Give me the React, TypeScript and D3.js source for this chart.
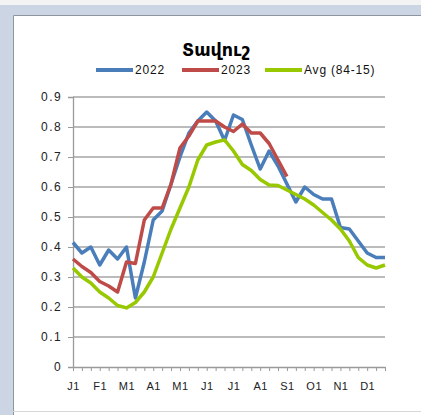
import React, { useEffect, useRef } from "react";
import * as d3 from "d3";

// 36 dekads (1st, 11th, 21st of each month)
const monthLabels = ["J1", "F1", "M1", "A1", "M1", "J1", "J1", "A1", "S1", "O1", "N1", "D1"];
const categories = d3.range(36);

const values2022 = [
  0.415, 0.38, 0.4, 0.34, 0.39, 0.36, 0.4, 0.23, 0.35, 0.49, 0.52, 0.61,
  0.7, 0.78, 0.82, 0.85, 0.82, 0.755, 0.84, 0.825, 0.74, 0.66, 0.72, 0.67,
  0.61, 0.55, 0.6, 0.575, 0.56, 0.56, 0.465, 0.46, 0.42, 0.38, 0.365, 0.365,
];
const values2023 = [
  0.36, 0.335, 0.315, 0.285, 0.27, 0.25, 0.35, 0.345, 0.49, 0.53, 0.53, 0.61,
  0.73, 0.77, 0.82, 0.82, 0.82, 0.8, 0.785, 0.81, 0.78, 0.78, 0.745, 0.69,
  0.635,
];
const valuesAvg = [
  0.33, 0.3, 0.28, 0.25, 0.23, 0.205, 0.197, 0.215, 0.25, 0.3, 0.38, 0.46,
  0.53, 0.6, 0.69, 0.74, 0.75, 0.757, 0.72, 0.675, 0.655, 0.625, 0.607, 0.605,
  0.59, 0.575, 0.56, 0.54, 0.515, 0.49, 0.46, 0.42, 0.365, 0.34, 0.33, 0.34,
];
const yTicks = [0, 0.1, 0.2, 0.3, 0.4, 0.5, 0.6, 0.7, 0.8, 0.9];

const series = [
  { name: "2022", values: values2022, color: "#4a7ebb" },
  { name: "2023", values: values2023, color: "#be4b48" },
  { name: "Avg (84-15)", values: valuesAvg, color: "#98c800" },
];

const App = () => {
  const svgRef = useRef<SVGSVGElement>(null);

  useEffect(() => {
    const svg = d3.select(svgRef.current);
    svg.selectAll("*").remove();

    // window frame
    svg.append("rect").attr("width", 421).attr("height", 415).attr("fill", "#fff");
    svg.append("rect").attr("width", 421).attr("height", 5).attr("fill", "#f3f3f3");
    svg.append("rect").attr("y", 5).attr("width", 421).attr("height", 10).attr("fill", "#cbd5e4");
    svg.append("rect").attr("y", 5).attr("width", 13).attr("height", 410).attr("fill", "#cbd5e4");
    svg.append("path").attr("d", "M13.5,415V15.5H421").attr("fill", "none").attr("stroke", "#8e959c");
    svg.append("line").attr("x1", 13).attr("x2", 421).attr("y1", 411.5).attr("y2", 411.5).attr("stroke", "#d8d8d8");

    const x = d3.scalePoint<number>().domain(categories).range([73, 385]);
    const y = d3.scaleLinear().domain([0, 0.9]).range([367, 97]);

    // gridlines
    svg
      .append("g")
      .selectAll("line")
      .data(yTicks.slice(1))
      .enter()
      .append("line")
      .attr("x1", 73)
      .attr("x2", 385)
      .attr("y1", (d) => y(d))
      .attr("y2", (d) => y(d))
      .attr("stroke", "#a5a5a5")
      .attr("stroke-width", 1.3);

    // y axis
    const yAxis = svg
      .append("g")
      .attr("transform", "translate(73,0)")
      .call(
        d3
          .axisLeft(y)
          .tickValues(yTicks)
          .tickSize(5)
          .tickPadding(6)
          .tickFormat((d) => (d === 0 ? "0" : d3.format(".1f")(d as number)))
      );
    yAxis.select(".domain").attr("stroke", "#9a9a9a").attr("stroke-width", 1.3);
    yAxis.selectAll(".tick line").attr("stroke", "#9a9a9a");
    yAxis
      .selectAll("text")
      .attr("font-family", "Liberation Sans, Arial, sans-serif")
      .attr("font-size", 12)
      .attr("letter-spacing", 1.4)
      .attr("fill", "#222");

    // x axis
    const xAxis = svg
      .append("g")
      .attr("transform", "translate(0,367)")
      .call(
        d3
          .axisBottom(x)
          .tickSize(4)
          .tickPadding(11)
          .tickFormat((d) => ((d as number) % 3 === 0 ? monthLabels[(d as number) / 3] : ""))
      );
    xAxis.select(".domain").attr("stroke", "#9a9a9a").attr("stroke-width", 1.3).attr("d", "M73,0.5H385.5");
    xAxis.selectAll(".tick line").attr("stroke", "#9a9a9a");
    xAxis
      .selectAll("text")
      .attr("font-family", "Liberation Sans, Arial, sans-serif")
      .attr("font-size", 11)
      .attr("letter-spacing", 0.5)
      .attr("fill", "#222");

    // lines
    const line = d3
      .line<number>()
      .x((d, i) => x(i) as number)
      .y((d) => y(d));

    svg
      .append("g")
      .selectAll("path")
      .data(series)
      .enter()
      .append("path")
      .attr("d", (d) => line(d.values))
      .attr("fill", "none")
      .attr("stroke", (d) => d.color)
      .attr("stroke-width", 3.5)
      .attr("stroke-linejoin", "round");

    // title
    svg
      .append("text")
      .attr("x", 216)
      .attr("y", 56)
      .attr("text-anchor", "middle")
      .attr("font-family", "DejaVu Sans, sans-serif")
      .attr("font-weight", "bold")
      .attr("font-size", 17.5)
      .attr("fill", "#000")
      .text("Տավուշ");

    // legend
    const legendX = [96, 182, 265];
    const lg = svg
      .append("g")
      .selectAll("g")
      .data(series)
      .enter()
      .append("g")
      .attr("transform", (d, i) => `translate(${legendX[i]},70)`);
    lg.append("line")
      .attr("x1", 0)
      .attr("x2", 37)
      .attr("stroke", (d) => d.color)
      .attr("stroke-width", 4);
    lg.append("text")
      .attr("x", 39)
      .attr("dy", "0.36em")
      .attr("font-family", "Liberation Sans, Arial, sans-serif")
      .attr("font-size", 12)
      .attr("letter-spacing", 0.8)
      .attr("fill", "#111")
      .text((d) => d.name);
  }, []);

  return (
    <svg
      ref={svgRef}
      width={421}
      height={415}
      style={{ position: "absolute", left: 0, top: 0 }}
    />
  );
};

export default App;
